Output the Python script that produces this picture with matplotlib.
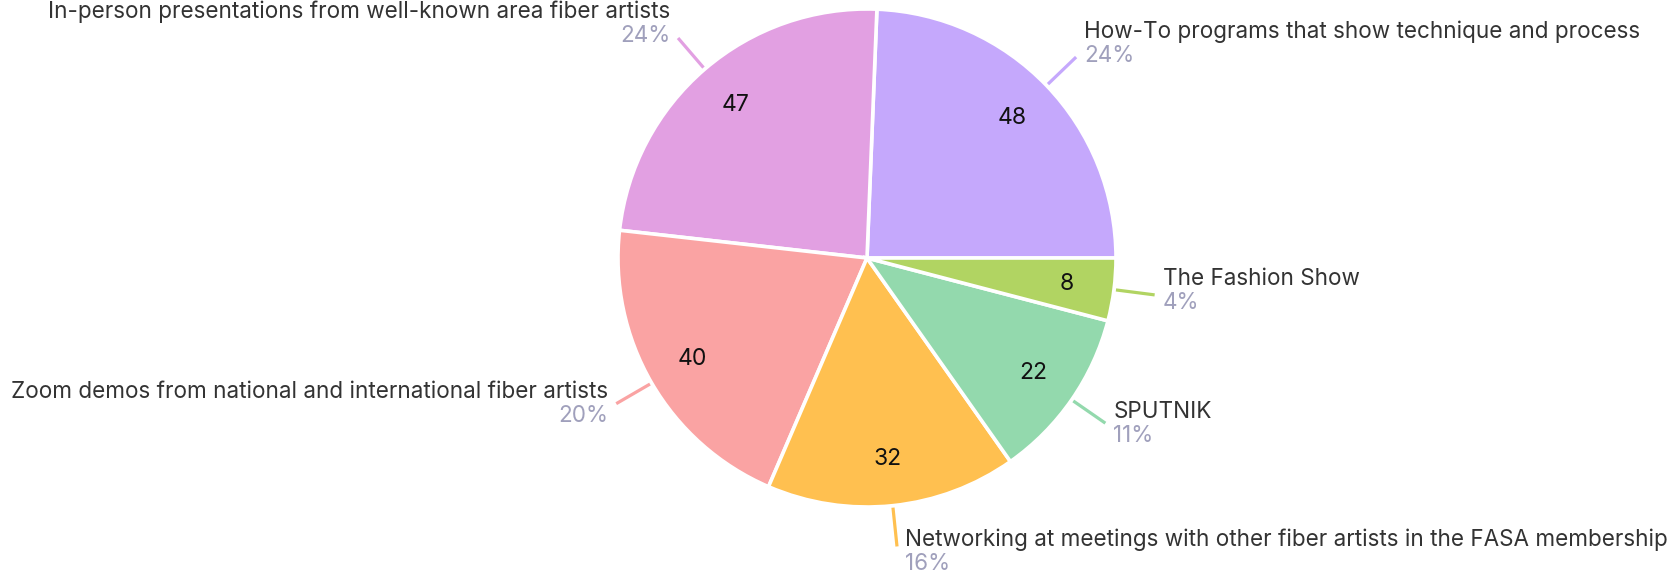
import numpy as np
import matplotlib.pyplot as plt

plt.rcParams['font.family'] = ['Inter', 'DejaVu Sans']

categories = ['How-To programs that show technique and process',
              'In-person presentations from well-known area fiber artists',
              'Zoom demos from national and international fiber artists',
              'Networking at meetings with other fiber artists in the FASA membership',
              'SPUTNIK',
              'The Fashion Show']
counts = [48, 47, 40, 32, 22, 8]
colors = ['#C5A8FC', '#E2A0E2', '#FAA3A3', '#FFC050', '#93D9AD', '#B1D462']

W, H = 1677, 574
fig = plt.figure(figsize=(W / 100, H / 100), dpi=100)
ax = fig.add_axes([0, 0, 1, 1])

cx, cy, r = 867, H - 258, 249
total = sum(counts)

wedges, _ = ax.pie(counts, colors=colors, startangle=0, counterclock=True,
                   center=(cx, cy), radius=r, frame=True,
                   wedgeprops=dict(edgecolor='white', linewidth=2.6))
ax.set_xlim(0, W)
ax.set_ylim(0, H)
ax.set_aspect('equal')
ax.axis('off')

for w, name, n, c in zip(wedges, categories, counts, colors):
    mid = np.deg2rad((w.theta1 + w.theta2) / 2)
    ca, sa = np.cos(mid), np.sin(mid)
    # value inside the slice
    ax.text(cx + 0.81 * r * ca, cy + 0.81 * r * sa, str(n), ha='center', va='center',
            fontsize=16.5, color='#111111')
    # leader line
    x0, y0 = cx + (r + 2) * ca, cy + (r + 2) * sa
    x1, y1 = cx + (r + 41) * ca, cy + (r + 41) * sa
    ax.plot([x0, x1], [y0, y1], color=c, lw=2.3, solid_capstyle='butt')
    # label block
    ha = 'left' if ca > 0 else 'right'
    tx = x1 + (8 if ca > 0 else -8)
    t_dy = 17.5 + 11 * sa
    ax.text(tx, y1 + t_dy, name, ha=ha, va='center', fontsize=16.2, color='#333333')
    ax.text(tx, y1 + t_dy - 24, f'{round(n / total * 100)}%', ha=ha, va='center',
            fontsize=16.2, color='#A0A0BC')

fig.savefig('out.png', dpi=100)
